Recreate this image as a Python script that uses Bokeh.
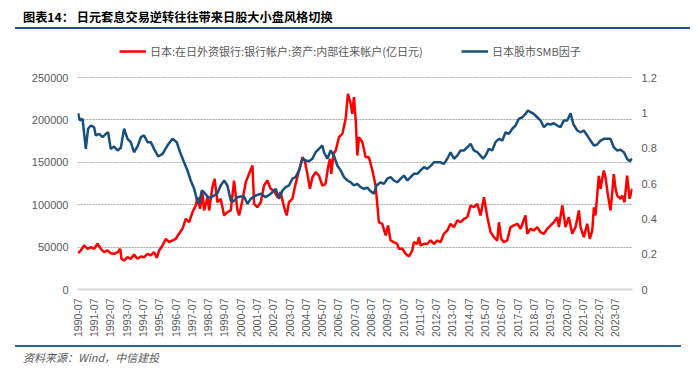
import math
from bokeh.plotting import figure
from bokeh.layouts import column
from bokeh.models import Range1d, LinearAxis, FixedTicker, Legend, LegendItem, Div
from bokeh.embed import file_html
from bokeh.resources import INLINE

# ---------------- data ----------------
title_text = "图表14： 日元套息交易逆转往往带来日股大小盘风格切换"
source_text = "资料来源：Wind，中信建投"
red_name = "日本:在日外资银行:银行帐户:资产:内部往来帐户(亿日元)"
blue_name = "日本股市SMB因子"

red_t = [1990.52, 1990.68, 1990.89, 1991.10, 1991.30, 1991.50, 1991.71, 1991.91, 1992.11, 1992.32,
         1992.52, 1992.73, 1992.94, 1993.10, 1993.18, 1993.34, 1993.55, 1993.75, 1993.95, 1994.16,
         1994.37, 1994.57, 1994.78, 1994.98, 1995.18, 1995.35, 1995.49, 1995.70, 1995.90, 1996.10,
         1996.31, 1996.51, 1996.71, 1996.92, 1997.13, 1997.33, 1997.54, 1997.74, 1997.84, 1998.00,
         1998.15, 1998.25, 1998.46, 1998.56, 1998.76, 1998.90, 1999.07, 1999.27, 1999.48, 1999.68,
         1999.89, 2000.09, 2000.30, 2000.40, 2000.60, 2000.81, 2001.01, 2001.22, 2001.32, 2001.52,
         2001.73, 2001.93, 2002.14, 2002.34, 2002.54, 2002.75, 2002.95, 2003.16, 2003.32, 2003.46,
         2003.67, 2003.87, 2004.08, 2004.29, 2004.43, 2004.59, 2004.75, 2004.90, 2005.10, 2005.30,
         2005.51, 2005.71, 2005.86, 2005.98, 2006.06, 2006.19, 2006.33, 2006.53, 2006.74, 2006.94,
         2007.08, 2007.25, 2007.35, 2007.45, 2007.56, 2007.66, 2007.76, 2007.97, 2008.17, 2008.37,
         2008.58, 2008.78, 2008.98, 2009.19, 2009.40, 2009.54, 2009.70, 2009.90, 2010.11, 2010.21,
         2010.42, 2010.62, 2010.83, 2011.03, 2011.13, 2011.34, 2011.44, 2011.54, 2011.75, 2011.95,
         2012.16, 2012.36, 2012.57, 2012.77, 2012.97, 2013.18, 2013.38, 2013.59, 2013.79, 2014.00,
         2014.20, 2014.41, 2014.61, 2014.81, 2015.02, 2015.22, 2015.43, 2015.64, 2015.84, 2016.04,
         2016.25, 2016.35, 2016.49, 2016.65, 2016.86, 2017.06, 2017.27, 2017.48, 2017.68, 2017.98,
         2018.09, 2018.29, 2018.49, 2018.70, 2018.90, 2019.11, 2019.32, 2019.52, 2019.72, 2019.93,
         2020.03, 2020.24, 2020.44, 2020.64, 2020.85, 2021.05, 2021.26, 2021.36, 2021.56, 2021.77,
         2021.93, 2022.08, 2022.18, 2022.28, 2022.38, 2022.48, 2022.59, 2022.69, 2022.79, 2022.89,
         2023.03, 2023.20, 2023.30, 2023.40, 2023.51, 2023.61, 2023.81, 2023.92, 2024.06, 2024.22,
         2024.37, 2024.53]
red_v = [42800, 46000, 51900, 48000, 49900, 48000, 53900, 48000, 44000, 46000,
         42800, 42100, 44000, 48000, 36200, 34200, 38100, 36200, 41300, 36200,
         38900, 38100, 42100, 40100, 44000, 37400, 46000, 51900, 59800, 55800,
         57800, 59800, 65700, 71600, 83400, 79300, 91200, 99000, 108800, 95200,
         114700, 93200, 108800, 93200, 120600, 130500, 102900, 107000, 87300, 91200,
         93200, 128500, 93200, 87300, 105000, 126500, 136400, 146200, 101100, 97000,
         102900, 122600, 128500, 118700, 116700, 108800, 114700, 97000, 87300, 102900,
         107000, 124600, 140300, 156000, 152100, 136400, 118700, 132400, 138300, 134400,
         122600, 124600, 144200, 154100, 136400, 160000, 163900, 179600, 183600, 201300,
         230800, 219000, 207200, 226800, 199300, 158000, 179600, 173700, 156000, 156000,
         140300, 122600, 79300, 77500, 63700, 75500, 57800, 55800, 53900, 48000,
         48000, 42100, 38900, 46000, 55800, 53900, 61700, 51900, 53900, 53900,
         58000, 53900, 57800, 55800, 65700, 69600, 77500, 73500, 81400, 79300,
         83400, 85300, 99000, 97000, 101100, 87300, 108800, 85300, 67600, 61700,
         57800, 79300, 59800, 55800, 57800, 73500, 75500, 77500, 71600, 87300,
         65700, 71600, 69600, 73500, 67600, 65700, 71600, 75500, 79300, 85300,
         73500, 99000, 73500, 85300, 65700, 73500, 93200, 73500, 61700, 77500,
         59800, 69600, 97000, 87300, 110800, 134000, 118700, 130500, 140300, 132400,
         112800, 93200, 112800, 136000, 118700, 110800, 107000, 110800, 102900, 134400,
         107000, 118700]

blue_t = [1990.52, 1990.62, 1990.79, 1990.99, 1991.13, 1991.30, 1991.50, 1991.60, 1991.81, 1992.02,
          1992.22, 1992.36, 1992.52, 1992.73, 1992.94, 1993.14, 1993.34, 1993.55, 1993.75, 1993.95,
          1994.16, 1994.37, 1994.57, 1994.78, 1994.98, 1995.18, 1995.43, 1995.70, 1996.00, 1996.31,
          1996.57, 1996.78, 1997.02, 1997.23, 1997.43, 1997.64, 1997.80, 1997.94, 1998.11, 1998.25,
          1998.46, 1998.66, 1998.86, 1999.07, 1999.27, 1999.48, 1999.68, 1999.89, 2000.09, 2000.30,
          2000.50, 2000.70, 2000.91, 2001.11, 2001.42, 2001.73, 2002.03, 2002.34, 2002.65, 2002.85,
          2003.06, 2003.26, 2003.46, 2003.67, 2003.87, 2004.08, 2004.29, 2004.49, 2004.69, 2004.90,
          2005.10, 2005.30, 2005.51, 2005.61, 2005.82, 2006.02, 2006.22, 2006.43, 2006.63, 2006.84,
          2007.05, 2007.25, 2007.45, 2007.66, 2007.86, 2008.06, 2008.27, 2008.48, 2008.68, 2008.84,
          2009.09, 2009.29, 2009.50, 2009.70, 2009.90, 2010.11, 2010.32, 2010.52, 2010.73, 2010.93,
          2011.13, 2011.34, 2011.54, 2011.75, 2011.95, 2012.16, 2012.36, 2012.57, 2012.77, 2012.97,
          2013.18, 2013.38, 2013.59, 2013.79, 2014.00, 2014.20, 2014.41, 2014.61, 2014.81, 2015.02,
          2015.22, 2015.38, 2015.53, 2015.73, 2015.94, 2016.14, 2016.35, 2016.56, 2016.76, 2016.96,
          2017.17, 2017.37, 2017.57, 2017.78, 2017.98, 2018.13, 2018.29, 2018.49, 2018.70, 2018.90,
          2019.11, 2019.32, 2019.52, 2019.72, 2019.93, 2020.13, 2020.34, 2020.54, 2020.75, 2020.91,
          2021.16, 2021.36, 2021.56, 2021.77, 2021.97, 2022.18, 2022.38, 2022.59, 2022.79, 2022.99,
          2023.20, 2023.40, 2023.61, 2023.81, 2024.02, 2024.22, 2024.37, 2024.53]
blue_v = [0.998, 0.957, 0.966, 0.796, 0.910, 0.928, 0.919, 0.872, 0.881, 0.862,
          0.881, 0.890, 0.796, 0.809, 0.787, 0.802, 0.910, 0.853, 0.834, 0.777,
          0.809, 0.862, 0.872, 0.834, 0.834, 0.796, 0.753, 0.768, 0.815, 0.853,
          0.834, 0.777, 0.720, 0.674, 0.617, 0.570, 0.513, 0.485, 0.560, 0.551,
          0.526, 0.519, 0.532, 0.545, 0.589, 0.617, 0.589, 0.504, 0.500, 0.522,
          0.526, 0.526, 0.485, 0.513, 0.532, 0.542, 0.522, 0.542, 0.570, 0.513,
          0.560, 0.579, 0.589, 0.627, 0.636, 0.674, 0.740, 0.730, 0.726, 0.740,
          0.777, 0.796, 0.815, 0.777, 0.740, 0.787, 0.758, 0.702, 0.674, 0.636,
          0.617, 0.607, 0.589, 0.598, 0.579, 0.570, 0.576, 0.556, 0.542, 0.589,
          0.607, 0.598, 0.627, 0.636, 0.617, 0.607, 0.627, 0.645, 0.617, 0.636,
          0.655, 0.655, 0.674, 0.692, 0.683, 0.700, 0.720, 0.720, 0.720, 0.711,
          0.740, 0.777, 0.740, 0.758, 0.787, 0.787, 0.805, 0.825, 0.787, 0.777,
          0.758, 0.740, 0.758, 0.796, 0.787, 0.834, 0.853, 0.843, 0.890, 0.881,
          0.910, 0.928, 0.966, 0.975, 0.994, 1.013, 1.004, 0.994, 0.975, 0.957,
          0.919, 0.938, 0.934, 0.941, 0.928, 0.919, 0.957, 0.957, 0.998, 0.938,
          0.900, 0.890, 0.900, 0.872, 0.843, 0.815, 0.821, 0.843, 0.853, 0.853,
          0.853, 0.805, 0.787, 0.791, 0.777, 0.740, 0.726, 0.740]

x_ticks = [1990.5 + i for i in range(34)]
x_tick_labels = [f"{1990 + i}-07" for i in range(34)]
left_ticks = [0, 50000, 100000, 150000, 200000, 250000]
left_tick_labels = ["0", "50000", "100000", "150000", "200000", "250000"]
right_ticks = [0, 0.2, 0.4, 0.6, 0.8, 1.0, 1.2]
right_tick_labels = ["0", "0.2", "0.4", "0.6", "0.8", "1", "1.2"]

# ---------------- styles / layout ----------------
FONT = "Noto Sans CJK SC"
LAB = "Liberation Sans"
GREY = "#595959"
RED = "#ff0000"
BLUE = "#17507f"
W = 700
PLOT_H = 212          # px from 0 to 250000 / 1.2
HEAD_H = 37           # blank band above the 250000 line that holds the legend
left_max = left_ticks[-1] * (PLOT_H + HEAD_H) / PLOT_H
right_max = right_ticks[-1] * (PLOT_H + HEAD_H) / PLOT_H

# ---------------- header: title + rule ----------------
header = Div(width=W, height=36, margin=0, text=(
    "<div style='position:relative;width:700px;height:36px;'>"
    "<div style=\"position:absolute;left:23px;top:8px;line-height:18px;white-space:nowrap;"
    f"font-family:'{FONT}';font-size:12.2px;font-weight:bold;color:#000;\">{title_text}</div>"
    "<div style='position:absolute;left:15px;top:27px;width:675px;height:2px;"
    "background:#1b4f85;'></div></div>"))

# ---------------- main chart ----------------
p = figure(width=W, height=304, output_backend="svg", toolbar_location=None,
           x_range=Range1d(1990.48, 2024.55), y_range=Range1d(0, left_max),
           min_border_left=77, min_border_right=68, min_border_top=4, min_border_bottom=51)
p.outline_line_color = None
p.extra_y_ranges = {"r": Range1d(0, right_max)}

p.xaxis.ticker = FixedTicker(ticks=x_ticks)
p.xaxis.major_label_overrides = dict(zip(x_ticks, x_tick_labels))
p.xaxis.major_label_orientation = math.pi / 2
p.xaxis.axis_line_color = "#d9d9d9"
p.xaxis.axis_line_width = 2
p.xaxis.major_label_standoff = 9

p.yaxis.ticker = FixedTicker(ticks=left_ticks)
p.yaxis.major_label_overrides = dict(zip(left_ticks, left_tick_labels))
p.yaxis.axis_line_color = None
p.yaxis.major_label_standoff = 9

ry = LinearAxis(y_range_name="r", ticker=FixedTicker(ticks=right_ticks))
ry.major_label_overrides = dict(zip(right_ticks, right_tick_labels))
ry.axis_line_color = None
ry.major_label_standoff = 9
p.add_layout(ry, "right")

for ax in [p.xaxis[0], p.yaxis[0], ry]:
    ax.major_tick_line_color = None
    ax.minor_tick_line_color = None
    ax.major_tick_out = 0
    ax.major_tick_in = 0
    ax.minor_tick_out = 0
    ax.major_label_text_font = LAB
    ax.major_label_text_font_size = "11px"
    ax.major_label_text_color = GREY
p.xaxis.major_label_text_font_size = "10.5px"

p.xgrid.grid_line_color = None
p.ygrid.ticker = FixedTicker(ticks=left_ticks[1:])
p.ygrid.grid_line_color = "#a6a6a6"
p.ygrid.grid_line_dash = "2 1"
p.ygrid.grid_line_width = 1

r_red = p.line(red_t, red_v, line_color=RED, line_width=2.5)
r_blue = p.line(blue_t, blue_v, line_color=BLUE, line_width=2.5, y_range_name="r")

for rend, name, xloc in [(r_red, red_name, 42), (r_blue, blue_name, 384)]:
    lg = Legend(items=[LegendItem(label=name, renderers=[rend])], location=(xloc, 230),
                orientation="horizontal",
                label_text_font=FONT, label_text_font_size="11px", label_text_color=GREY,
                glyph_width=27, glyph_height=14, label_height=14, label_standoff=4,
                padding=0, margin=0, border_line_color=None, background_fill_alpha=0)
    p.add_layout(lg, "center")

# ---------------- footer: rule + source ----------------
footer = Div(width=W, height=44, margin=0, text=(
    "<div style='position:relative;width:700px;height:44px;'>"
    "<div style='position:absolute;left:15px;top:5px;width:666px;height:2px;"
    "background:#2c6593;'></div>"
    "<div style=\"position:absolute;left:23px;top:9px;line-height:16px;white-space:nowrap;"
    f"font-family:'{FONT}';font-size:11px;font-style:italic;color:{GREY};\">{source_text}</div>"
    "</div>"))

layout = column(header, p, footer, spacing=0)
open("out.html", "w").write(file_html(layout, INLINE))
